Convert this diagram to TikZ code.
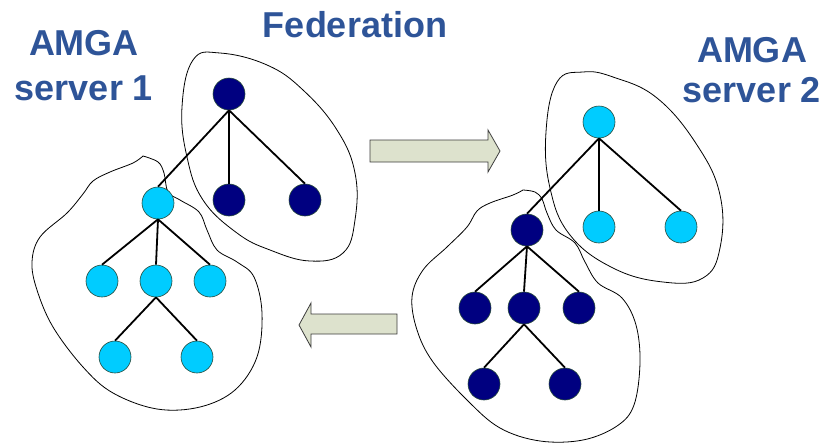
\documentclass[tikz,border=0pt]{standalone}
\usepackage{fontspec}
\setmainfont{Liberation Sans}
\definecolor{lbl}{RGB}{46,84,152}
\definecolor{lightnode}{RGB}{0,204,255}
\definecolor{darknode}{RGB}{0,0,128}
\definecolor{nodeline}{RGB}{40,75,60}
\definecolor{arrowfill}{RGB}{221,226,205}
\definecolor{arrowline}{RGB}{60,60,60}
\tikzset{
  lnode/.style={circle,fill=lightnode,draw=nodeline,line width=0.6pt,minimum size=32pt,inner sep=0pt},
  dnode/.style={circle,fill=darknode,draw=nodeline,line width=0.6pt,minimum size=32pt,inner sep=0pt},
  edge/.style={line width=1.8pt,black},
  blob/.style={line width=0.8pt,black},
  bigarrow/.style={fill=arrowfill,draw=arrowline,line width=0.8pt,line join=miter},
  title/.style={text=lbl,align=center,inner sep=0pt,anchor=base}
}
\begin{document}
\begin{tikzpicture}[x=1pt,y=-1pt]
\useasboundingbox (0,0) rectangle (828,445);

% labels (base anchor = baseline of the last line)
\node[title,font=\fontsize{36}{45}\selectfont\bfseries] (t1) at (84,100) {AMGA\\server 1};
\node[title,font=\fontsize{36}{45}\selectfont\bfseries] (t2) at (355,37) {Federation};
\node[title,font=\fontsize{36}{40}\selectfont\bfseries] (t3) at (752,102) {AMGA\\server 2};

% blobs
\draw[blob] plot[smooth cycle,tension=0.7] coordinates {
 (220,53) (267,65) (303,90) (337,130) (355,173) (355,220) (343,253) (310,261) (270,250) (237,233) (203,200) (187,157) (182,107) (193,60)};
\draw[blob] plot[smooth,tension=0.6] coordinates {
 (143,156) (133,163) (110,172) (93,181) (83,194) (67,213) (40,237) (32,262) (37,290) (53,327) (83,367) (113,393) (157,409) (200,407) (235,390) (257,357) (262,313) (254,277) (237,262) (217,250) (207,230) (199,212) (180,200) (168,192) (164,173) (158,162) (143,156)};
\draw[blob] plot[smooth cycle,tension=0.7] coordinates {
 (583,72) (613,77) (657,98) (697,145) (720,195) (720,248) (703,278) (663,282) (613,268) (570,235) (550,188) (546,132) (557,82)};
\draw[blob] plot[smooth,tension=0.6] coordinates {
 (523,190) (513,195) (490,203) (477,211) (467,227) (447,247) (423,270) (412,297) (417,330) (433,362) (467,400) (500,428) (540,441) (583,440) (617,426) (634,405) (640,363) (636,325) (622,298) (598,283) (585,262) (575,243) (556,230) (547,213) (542,199) (535,192) (523,190)};

% arrows
\draw[bigarrow] (370,140) -- (488,140) -- (488,130) -- (500,151) -- (488,172) -- (488,162) -- (370,162) -- cycle;
\draw[bigarrow] (397,314) -- (311,314) -- (311,303) -- (299,325) -- (311,347) -- (311,334) -- (397,334) -- cycle;

% left tree
\node[dnode] (fa) at (229,94) {};
\node[dnode] (fb) at (229,200) {};
\node[dnode] (fc) at (305,200) {};
\node[lnode] (la) at (158,203) {};
\node[lnode] (lb) at (102,281) {};
\node[lnode] (lc) at (156,281) {};
\node[lnode] (ld) at (210,281) {};
\node[lnode] (le) at (115,357) {};
\node[lnode] (lf) at (197,357) {};
\draw[edge] (fa.south) -- (la.north);
\draw[edge] (fa.south) -- (fb.north);
\draw[edge] (fa.south) -- (fc.north);
\draw[edge] (la.south) -- (lb.north);
\draw[edge] (la.south) -- (lc.north);
\draw[edge] (la.south) -- (ld.north);
\draw[edge] (lc.south) -- (le.north);
\draw[edge] (lc.south) -- (lf.north);

% right tree
\node[lnode] (ga) at (599,122) {};
\node[lnode] (gb) at (599,227) {};
\node[lnode] (gc) at (681,227) {};
\node[dnode] (ra) at (527,230) {};
\node[dnode] (rb) at (475,308) {};
\node[dnode] (rc) at (524,308) {};
\node[dnode] (rd) at (579,308) {};
\node[dnode] (re) at (484,384) {};
\node[dnode] (rf) at (565,384) {};
\draw[edge] (ga.south) -- (ra.north);
\draw[edge] (ga.south) -- (gb.north);
\draw[edge] (ga.south) -- (gc.north);
\draw[edge] (ra.south) -- (rb.north);
\draw[edge] (ra.south) -- (rc.north);
\draw[edge] (ra.south) -- (rd.north);
\draw[edge] (rc.south) -- (re.north);
\draw[edge] (rc.south) -- (rf.north);
\end{tikzpicture}
\end{document}
